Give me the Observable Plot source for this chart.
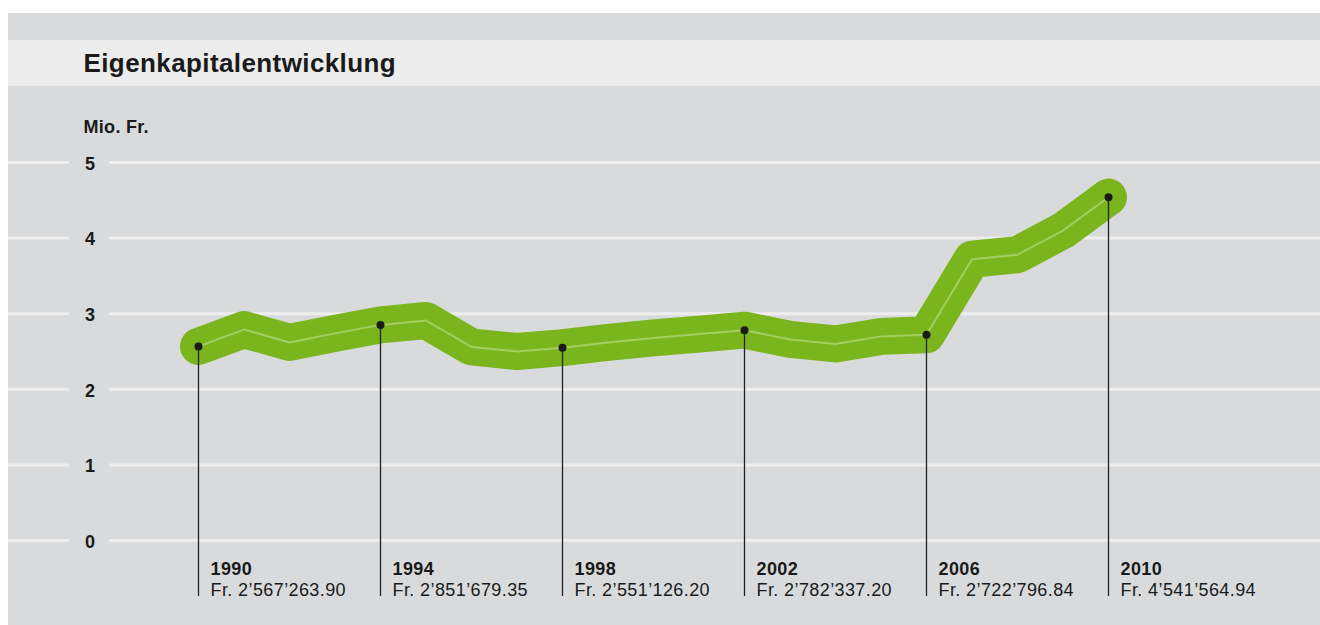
<!DOCTYPE html>
<html>
<head>
<meta charset="utf-8">
<script src="https://cdn.jsdelivr.net/npm/d3@7"></script>
<script src="https://cdn.jsdelivr.net/npm/@observablehq/plot@0.6"></script>
<style>
  html, body { margin: 0; padding: 0; background: #ffffff; width: 1320px; height: 625px; overflow: hidden; }
  #wrap { position: absolute; left: 8px; top: 13px; width: 1312px; height: 612px; background: #d9dadc;
          font-family: "Liberation Sans", Arial, Helvetica, sans-serif; color: #1a1a1a; }
  #band { position: absolute; left: 0; top: 27px; width: 1312px; height: 46px; background: #ececec; }
  #title { position: absolute; left: 75.5px; top: 37.3px; font-size: 26px; line-height: 26px; font-weight: bold; letter-spacing: 0.4px; white-space: nowrap; }
  #unit { position: absolute; left: 75.5px; top: 104.5px; font-size: 18px; line-height: 18px; font-weight: bold; letter-spacing: 0.3px; white-space: nowrap; }
  #chart { position: absolute; left: 0; top: 127px; }
</style>
</head>
<body>
<div id="wrap">
  <div id="band"></div>
  <div id="title">Eigenkapitalentwicklung</div>
  <div id="unit">Mio. Fr.</div>
  <div id="chart"></div>
</div>
<script>
// Data (Mio. Fr.)
const years = [1990, 1991, 1992, 1993, 1994, 1995, 1996, 1997, 1998, 1999, 2000,
               2001, 2002, 2003, 2004, 2005, 2006, 2007, 2008, 2009, 2010];
const values = [2.567, 2.79, 2.62, 2.74, 2.852, 2.91, 2.56, 2.50, 2.551, 2.62, 2.68,
                2.73, 2.782, 2.66, 2.60, 2.70, 2.723, 3.72, 3.78, 4.10, 4.542];

const labelYears = [1990, 1994, 1998, 2002, 2006, 2010];
const labelValues = [2.56726390, 2.85167935, 2.55112620, 2.78233720, 2.72279684, 4.54156494];
const labelAmounts = ["Fr. 2’567’263.90", "Fr. 2’851’679.35", "Fr. 2’551’126.20",
                      "Fr. 2’782’337.20", "Fr. 2’722’796.84", "Fr. 4’541’564.94"];

const yTicks = [0, 1, 2, 3, 4, 5];

const series = years.map((y, i) => ({year: y, value: values[i]}));
const labels = labelYears.map((y, i) => ({year: y, value: labelValues[i], amount: labelAmounts[i], yearText: String(y)}));

const ink = "#1a1a1a";

const chart = Plot.plot({
  width: 1312,
  height: 485,
  marginTop: 22,
  marginBottom: 85,
  marginLeft: 190,
  marginRight: 212,
  style: {background: "transparent", fontFamily: "'Liberation Sans', Arial, Helvetica, sans-serif", overflow: "visible"},
  x: {domain: [1990, 2010], axis: null},
  y: {domain: [0, 5], axis: null},
  marks: [
    // grid lines, left and right segments around the tick labels
    Plot.ruleY(yTicks, {stroke: "#eeeeef", strokeWidth: 3, insetLeft: -190, insetRight: 1039}),
    Plot.ruleY(yTicks, {stroke: "#eeeeef", strokeWidth: 3, insetLeft: -89, insetRight: -212}),
    Plot.text(yTicks, {y: d => d, text: d => String(d), frameAnchor: "left", dx: -108.5, dy: 1.5,
                       textAnchor: "middle", fontWeight: "bold", fontSize: 18, fill: ink}),
    // thick green line
    Plot.line(series, {x: "year", y: "value", stroke: "#7ab51d", strokeWidth: 37,
                       strokeLinecap: "round", strokeLinejoin: "round"}),
    Plot.line(series, {x: "year", y: "value", stroke: "#a4cd62", strokeWidth: 2,
                       strokeLinejoin: "round"}),
    // drop lines and dots
    Plot.ruleX(labels, {x: "year", y1: "value", y2: 0, stroke: "#222222", strokeWidth: 1.3, insetBottom: -56}),
    Plot.dot(labels, {x: "year", y: "value", r: 4, fill: ink, stroke: "none"}),
    // labels
    Plot.text(labels, {x: "year", text: "yearText", frameAnchor: "bottom", dx: 12, dy: 34,
                       textAnchor: "start", lineAnchor: "bottom", fontWeight: "bold", fontSize: 18,
                       fill: ink, style: {letterSpacing: "0.3px"}}),
    Plot.text(labels, {x: "year", text: "amount", frameAnchor: "bottom", dx: 12, dy: 55,
                       textAnchor: "start", lineAnchor: "bottom", fontSize: 18, fill: ink})
  ]
});
chart.querySelectorAll("g[aria-label='text']").forEach((g, i) => { if (i > 0) g.setAttribute("letter-spacing", "0.4px"); });
document.getElementById("chart").appendChild(chart);
</script>
</body>
</html>
